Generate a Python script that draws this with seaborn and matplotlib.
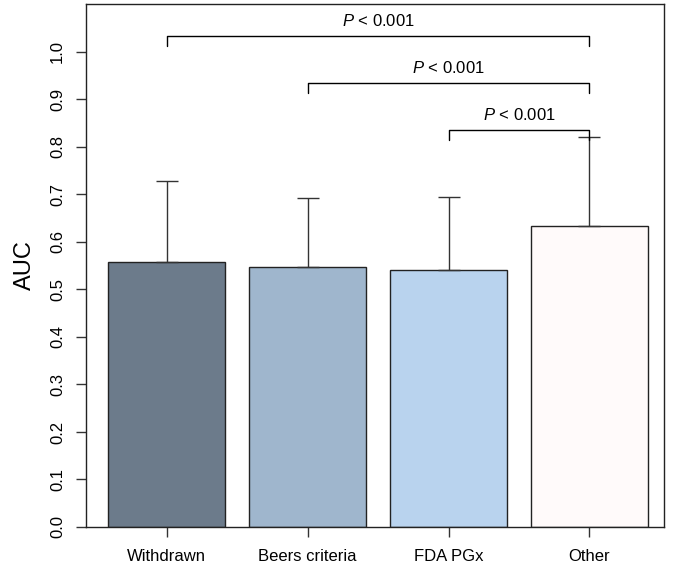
import numpy as np
import matplotlib
matplotlib.use("Agg")
import matplotlib.pyplot as plt
import seaborn as sns

# values
categories = ["Withdrawn", "Beers criteria", "FDA PGx", "Other"]
auc_mean = [0.558, 0.548, 0.542, 0.634]
auc_err = [0.170, 0.145, 0.153, 0.188]
bar_colors = ["#6C7B8B", "#9FB6CD", "#B9D3EE", "#FFFAFA"]

# significance brackets: (left bar, right bar, height, label)
brackets = [(0, 3, 1.034, "P < 0.001"),
            (1, 3, 0.935, "P < 0.001"),
            (2, 3, 0.836, "P < 0.001")]

sns.set_style("white")
plt.rcParams['font.family'] = ['Liberation Sans', 'DejaVu Sans']
plt.rcParams['mathtext.fontset'] = 'custom'
plt.rcParams['mathtext.it'] = 'Liberation Sans:italic'
plt.rcParams['mathtext.rm'] = 'Liberation Sans'
plt.rcParams['text.color'] = 'black'
plt.rcParams['axes.labelcolor'] = 'black'
plt.rcParams['xtick.color'] = 'black'
plt.rcParams['ytick.color'] = 'black'

fig = plt.figure(figsize=(6.75, 5.68), dpi=100)
ax = fig.add_axes([0.1274, 0.0722, 0.9837 - 0.1274, 0.993 - 0.0722])

sns.barplot(x=categories, y=auc_mean, hue=categories, palette=bar_colors,
            saturation=1, legend=False, width=0.833, edgecolor="#222222",
            linewidth=1.0, ax=ax)

xpos = np.arange(len(categories))
ax.errorbar(xpos, auc_mean, yerr=[np.zeros(len(auc_err)), auc_err], fmt='none',
            ecolor="#333333", elinewidth=1.0, capsize=8, capthick=1.0)

drop = 0.021
for left, right, h, lab in brackets:
    ax.plot([left, left, right, right], [h - drop, h, h, h - drop],
            color="black", lw=1.0, clip_on=False)
    txt = lab.replace("P", r"$\mathit{P}$", 1)
    ax.text((left + right) / 2, h + 0.032, txt, ha='center', va='center',
            fontsize=12, color='black')

ax.set_xlim(-0.574, 3.53)
ax.set_ylim(0, 1.101)
ax.set_yticks(np.arange(0, 1.01, 0.1))
ax.set_yticklabels([f"{v:.1f}" for v in np.arange(0, 1.01, 0.1)],
                   rotation=90, va='center')
ax.tick_params(axis='y', length=7.2, width=1.0, pad=8, labelsize=12,
               color="#333333", labelcolor='black', left=True)
ax.tick_params(axis='x', length=7.2, width=1.0, pad=9, labelsize=12,
               color="#333333", labelcolor='black', bottom=True)
ax.set_xlabel("")
ax.set_ylabel("AUC", fontsize=17, labelpad=10, color='black')

for s in ax.spines.values():
    s.set_visible(True)
    s.set_color("#222222")
    s.set_linewidth(1.0)

fig.savefig("out.png", dpi=100)
